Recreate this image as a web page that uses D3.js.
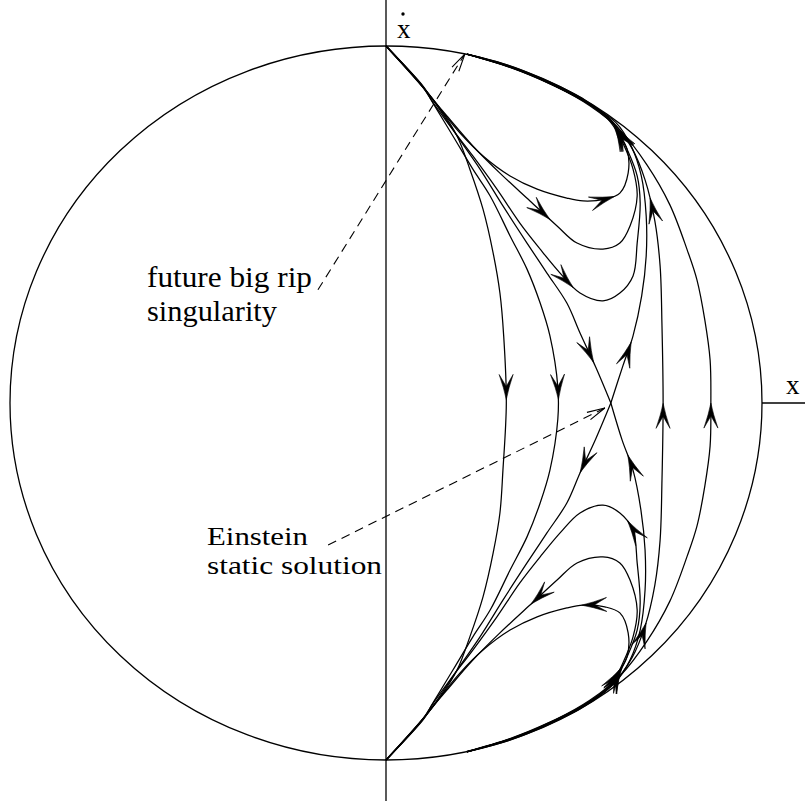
<!DOCTYPE html>
<html><head><meta charset="utf-8">
<script src="https://cdn.jsdelivr.net/npm/d3@7/dist/d3.min.js"></script>
<style>body{margin:0;background:#fff}</style>
</head><body>
<svg id="chart" width="805" height="803"></svg>
<script>
// ---- data (phase-plane coordinates: x horizontal, xdot vertical; boundary = unit circle) ----
const C1 = [[0,1],[0.096,0.888],[0.144,0.824],[0.189,0.748],[0.223,0.655],[0.258,0.543],[0.285,0.420],[0.303,0.308],[0.313,0.188],[0.320,0],[0.311,-0.188],[0.303,-0.308],[0.285,-0.420],[0.258,-0.543],[0.223,-0.655],[0.189,-0.748],[0.144,-0.824],[0.096,-0.888],[0,-1]];
const C2 = [[0,1],[0.099,0.885],[0.125,0.840],[0.178,0.748],[0.231,0.655],[0.277,0.580],[0.330,0.468],[0.375,0.375],[0.410,0.280],[0.436,0.188],[0.457,0.045],[0.457,-0.045],[0.436,-0.188],[0.410,-0.280],[0.375,-0.375],[0.330,-0.468],[0.277,-0.580],[0.231,-0.655],[0.178,-0.748],[0.125,-0.840],[0.099,-0.885],[0,-1]];
const C3 = [[0,1],[0.101,0.882],[0.136,0.832],[0.189,0.748],[0.250,0.655],[0.311,0.552],[0.375,0.448],[0.428,0.364],[0.481,0.280],[0.516,0.196],[0.558,0.100],[0.598,0]];
const UL = [[0.598,0],[0.558,-0.100],[0.516,-0.196],[0.481,-0.280],[0.428,-0.364],[0.375,-0.448],[0.311,-0.552],[0.250,-0.655],[0.189,-0.748],[0.136,-0.832],[0.101,-0.882],[0,-1]];
const SL = [[0.215,-0.977],[0.356,-0.932],[0.463,-0.883],[0.543,-0.836],[0.609,-0.784],[0.649,-0.720],[0.676,-0.636],[0.689,-0.524],[0.689,-0.412],[0.678,-0.300],[0.657,-0.188],[0.628,-0.104],[0.598,0]];
const UU = [[0.598,0],[0.630,0.104],[0.657,0.188],[0.680,0.300],[0.692,0.412],[0.692,0.524],[0.679,0.636],[0.652,0.720],[0.611,0.786],[0.545,0.834],[0.465,0.880],[0.358,0.930],[0.215,0.977]];
const T1 = [[0,1],[0.104,0.877],[0.144,0.824],[0.197,0.756],[0.258,0.692],[0.330,0.636],[0.402,0.599],[0.481,0.574],[0.524,0.566],[0.582,0.571],[0.622,0.588],[0.644,0.644],[0.641,0.711],[0.622,0.748],[0.590,0.795],[0.529,0.844],[0.436,0.894],[0.330,0.940],[0.215,0.977]];
const T2 = [[0,1],[0.096,0.891],[0.117,0.860],[0.162,0.804],[0.231,0.720],[0.303,0.644],[0.383,0.566],[0.455,0.496],[0.508,0.448],[0.577,0.431],[0.622,0.448],[0.649,0.496],[0.668,0.580],[0.657,0.655],[0.630,0.728],[0.596,0.795],[0.537,0.840],[0.441,0.894],[0.335,0.940],[0.215,0.977]];
const T3 = [[0,1],[0.098,0.885],[0.122,0.846],[0.170,0.776],[0.231,0.692],[0.295,0.599],[0.356,0.504],[0.410,0.431],[0.463,0.364],[0.516,0.308],[0.577,0.286],[0.622,0.308],[0.657,0.356],[0.668,0.448],[0.676,0.560],[0.668,0.636],[0.641,0.711],[0.614,0.768],[0.588,0.800],[0.529,0.846],[0.436,0.897],[0.330,0.942],[0.215,0.977]];
const L1 = [[0.215,-0.977],[0.330,-0.942],[0.436,-0.897],[0.529,-0.846],[0.588,-0.800],[0.614,-0.768],[0.641,-0.711],[0.668,-0.636],[0.676,-0.560],[0.668,-0.448],[0.657,-0.356],[0.622,-0.308],[0.577,-0.286],[0.516,-0.308],[0.463,-0.364],[0.410,-0.431],[0.356,-0.504],[0.295,-0.599],[0.231,-0.692],[0.170,-0.776],[0.122,-0.846],[0.098,-0.885],[0,-1]];
const L2 = [[0.215,-0.977],[0.335,-0.940],[0.441,-0.894],[0.537,-0.840],[0.596,-0.795],[0.630,-0.728],[0.657,-0.655],[0.668,-0.580],[0.649,-0.496],[0.622,-0.448],[0.577,-0.431],[0.508,-0.448],[0.455,-0.496],[0.383,-0.566],[0.303,-0.644],[0.231,-0.720],[0.162,-0.804],[0.117,-0.860],[0.096,-0.891],[0,-1]];
const L3 = [[0.215,-0.976],[0.330,-0.940],[0.436,-0.894],[0.529,-0.844],[0.590,-0.795],[0.622,-0.748],[0.641,-0.711],[0.644,-0.644],[0.622,-0.588],[0.582,-0.571],[0.524,-0.566],[0.481,-0.574],[0.402,-0.599],[0.330,-0.636],[0.258,-0.692],[0.197,-0.756],[0.144,-0.824],[0.104,-0.877],[0,-1]];
const L662 = [[0.215,-0.977],[0.330,-0.944],[0.436,-0.899],[0.529,-0.849],[0.601,-0.790],[0.654,-0.714],[0.689,-0.625],[0.715,-0.510],[0.729,-0.384],[0.734,-0.216],[0.737,0],[0.734,0.216],[0.729,0.384],[0.715,0.510],[0.689,0.625],[0.654,0.714],[0.601,0.790],[0.529,0.849],[0.436,0.899],[0.330,0.944],[0.215,0.977]];
const L712 = [[0.215,-0.977],[0.343,-0.936],[0.449,-0.888],[0.543,-0.832],[0.622,-0.765],[0.694,-0.667],[0.755,-0.555],[0.801,-0.429],[0.827,-0.345],[0.848,-0.232],[0.862,-0.120],[0.864,0],[0.862,0.120],[0.848,0.232],[0.827,0.345],[0.801,0.429],[0.755,0.555],[0.694,0.667],[0.622,0.765],[0.543,0.832],[0.449,0.888],[0.343,0.936],[0.215,0.977]];

const trajectoryNames = ["C1","C2","C3","UL","SL","UU","T1","T2","T3","L1","L2","L3","L662","L712"];
const trajectoryPoints = [C1,C2,C3,UL,SL,UU,T1,T2,T3,L1,L2,L3,L662,L712];

// arrows: [trajectory, x, xdot] near which a flow arrow sits
const arrowMarks = [
  ["C1",0.322,0.036],["C2",0.460,0.036],["C3",0.537,0.134],["UU",0.641,0.148],
  ["L662",0.734,-0.025],["L712",0.864,-0.025],["SL",0.662,-0.165],["UL",0.537,-0.176],
  ["T1",0.585,0.569],["T2",0.418,0.532],["T3",0.495,0.356],
  ["T1",0.628,0.756],["T2",0.628,0.756],["T3",0.628,0.756],["L662",0.715,0.552],
  ["L1",0.660,-0.350],["L2",0.402,-0.546],["L3",0.545,-0.566],
  ["L1",0.609,-0.762],["L2",0.609,-0.762],["L3",0.609,-0.762],["L662",0.689,-0.641]
];

const verticalAxisExtent = [-1.115, 1.13];
const horizontalAxisStub = [1, 1.115];
const axisNames = ["x", "x"];           // xdot (vertical) and x (horizontal)
const ripLabel = ["future big rip", "singularity"];
const einsteinLabel = ["Einstein", "static solution"];
const ripPointer = [[-0.181,0.317],[0.210,0.978]];
const einsteinPointer = [[-0.154,-0.398],[0.582,-0.014]];

// ---- drawing ----
const svg = d3.select("#chart");
const x = d3.scaleLinear().domain([-1,1]).range([10,762]);
const y = d3.scaleLinear().domain([-1,1]).range([760,46]);
const FONT = "'Liberation Serif','Times New Roman',Times,serif";

// boundary
svg.append("ellipse")
  .attr("cx", x(0)).attr("cy", y(0))
  .attr("rx", x(1)-x(0)).attr("ry", y(0)-y(1))
  .attr("fill","none").attr("stroke","#000").attr("stroke-width",1.3);

// axes
svg.append("line").attr("x1",x(0)).attr("x2",x(0))
  .attr("y1",y(verticalAxisExtent[1])).attr("y2",y(verticalAxisExtent[0]))
  .attr("stroke","#000").attr("stroke-width",1.3);
svg.append("line").attr("x1",x(horizontalAxisStub[0])).attr("x2",x(horizontalAxisStub[1]))
  .attr("y1",y(0)).attr("y2",y(0))
  .attr("stroke","#000").attr("stroke-width",1.3);

// trajectories
const lineGen = d3.line().x(d=>x(d[0])).y(d=>y(d[1])).curve(d3.curveCatmullRom.alpha(0.5));
const pathNodes = {};
const gT = svg.append("g");
trajectoryNames.forEach((name,i)=>{
  const p = gT.append("path").attr("d", lineGen(trajectoryPoints[i]))
    .attr("fill","none").attr("stroke","#000").attr("stroke-width",1.25);
  pathNodes[name] = p.node();
});

// arrowheads
const arrowShape = "M0,0 Q-11,-2.2 -25,-7 L-13,0 L-25,7 Q-11,2.2 0,0 Z";
const gA = svg.append("g");
arrowMarks.forEach(([name,ax,ay])=>{
  const node = pathNodes[name];
  const L = node.getTotalLength();
  const tx = x(ax), ty = y(ay);
  let best=0, bd=Infinity;
  for(let s=0;s<=L;s+=1){
    const p=node.getPointAtLength(s);
    const d=(p.x-tx)*(p.x-tx)+(p.y-ty)*(p.y-ty);
    if(d<bd){bd=d;best=s;}
  }
  const sTip = Math.min(L, best+9);
  const p1 = node.getPointAtLength(sTip), p0 = node.getPointAtLength(Math.max(0,sTip-6));
  const ang = Math.atan2(p1.y-p0.y, p1.x-p0.x)*180/Math.PI;
  gA.append("path").attr("d",arrowShape)
    .attr("transform",`translate(${p1.x},${p1.y}) rotate(${ang})`)
    .attr("fill","#000").attr("stroke","#000").attr("stroke-width",0.6);
});

// dashed pointers with open arrowheads
function pointer(pts){
  const a=[x(pts[0][0]),y(pts[0][1])], b=[x(pts[1][0]),y(pts[1][1])];
  svg.append("line").attr("x1",a[0]).attr("y1",a[1]).attr("x2",b[0]).attr("y2",b[1])
    .attr("stroke","#000").attr("stroke-width",1.1).attr("stroke-dasharray","9,6");
  const dx=b[0]-a[0], dy=b[1]-a[1], len=Math.hypot(dx,dy), ux=dx/len, uy=dy/len;
  const bx=b[0]-18*ux, by=b[1]-18*uy;
  svg.append("path")
    .attr("d",`M${bx-4*uy},${by+4*ux} L${b[0]},${b[1]} L${bx+4*uy},${by-4*ux}`)
    .attr("fill","none").attr("stroke","#000").attr("stroke-width",1.1);
}
pointer(ripPointer);
pointer(einsteinPointer);

// labels
function label(txt, px, py, len, fs){
  svg.append("text").attr("x",px).attr("y",py).text(txt)
    .attr("font-family",FONT).attr("font-size",fs).attr("fill","#000")
    .attr("textLength",len).attr("lengthAdjust","spacingAndGlyphs");
}
label(ripLabel[0],147,287,165,29);
label(ripLabel[1],147,321,130,29);
label(einsteinLabel[0],207,545,101,26);
label(einsteinLabel[1],207,574,175,26);

// axis names
svg.append("text").attr("x",x(0)+11).attr("y",38).text(axisNames[0])
  .attr("font-family",FONT).attr("font-size",27).attr("fill","#000");
svg.append("circle").attr("cx",x(0)+17).attr("cy",14).attr("r",1.7).attr("fill","#000");
svg.append("text").attr("x",x(horizontalAxisStub[0])+24).attr("y",394).text(axisNames[1])
  .attr("font-family",FONT).attr("font-size",27).attr("fill","#000");
</script>
</body></html>
